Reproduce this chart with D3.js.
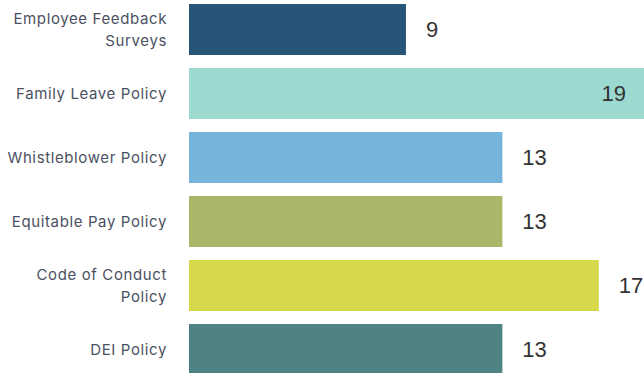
<!DOCTYPE html>
<html><head><meta charset="utf-8">
<script src="https://cdn.jsdelivr.net/npm/d3@7"></script>
<style>html,body{margin:0;padding:0;background:#fff;overflow:hidden}</style>
</head><body>
<svg id="chart" width="644" height="373"></svg>
<script>
const categories = ["Employee Feedback Surveys","Family Leave Policy","Whistleblower Policy","Equitable Pay Policy","Code of Conduct Policy","DEI Policy"];
const labelLines = [["Employee Feedback","Surveys"],["Family Leave Policy"],["Whistleblower Policy"],["Equitable Pay Policy"],["Code of Conduct","Policy"],["DEI Policy"]];
const values = [9,19,13,13,17,13];
const colors = ["#275577","#9bd9d1","#76b5db","#a8b868","#d6da4a","#4e8283"];

const svg = d3.select("#chart");
const x = d3.scaleLinear().domain([0,19]).range([189,647]);
const y = d3.scaleBand().domain(categories).range([4,375]).paddingInner(13/64).paddingOuter(0);

svg.selectAll("rect.bar").data(categories).join("rect")
  .attr("class","bar")
  .attr("x", x(0))
  .attr("y", d=>y(d))
  .attr("width", (d,i)=>x(values[i])-x(0))
  .attr("height", y.bandwidth())
  .attr("fill",(d,i)=>colors[i]);

const maxV = d3.max(values);
svg.selectAll("text.val").data(categories).join("text")
  .attr("class","val")
  .attr("x",(d,i)=> values[i]===maxV ? x(values[i]) - 21 : x(values[i]) + 20)
  .attr("text-anchor",(d,i)=> values[i]===maxV ? "end" : "start")
  .attr("y", d=>y(d)+y.bandwidth()/2)
  .attr("dy","0.36em")
  .attr("font-family","Liberation Sans, Arial, sans-serif")
  .attr("font-size",22)
  .attr("fill","#333333")
  .text((d,i)=>values[i]);

const lab = svg.selectAll("text.cat").data(categories).join("text")
  .attr("class","cat")
  .attr("text-anchor","end")
  .attr("font-family","Inter, sans-serif")
  .attr("font-size",15)
  .attr("letter-spacing","0.62px")
  .attr("fill","#4b5162");
lab.each(function(d,i){
  const lines = labelLines[i];
  const cy = y(d)+y.bandwidth()/2;
  const lh = 22;
  const y0 = cy - (lines.length-1)*lh/2;
  d3.select(this).selectAll("tspan").data(lines).join("tspan")
    .attr("x",167)
    .attr("y",(l,j)=>y0+j*lh)
    .attr("dy","0.36em")
    .text(l=>l);
});
</script>
</body></html>
